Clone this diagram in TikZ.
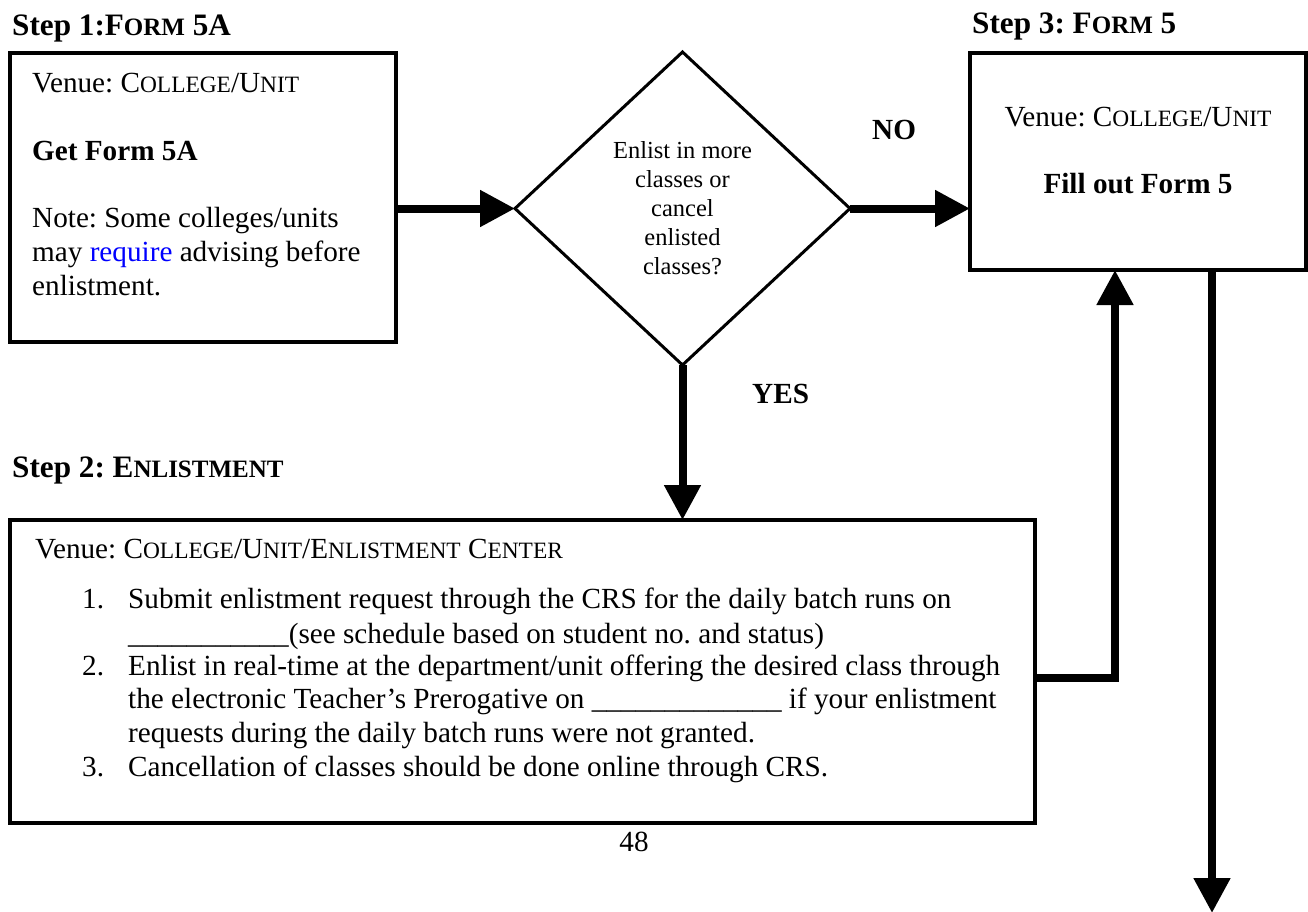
\documentclass[tikz,border=0pt]{standalone}
\usepackage{fontspec}
\setmainfont{Liberation Serif}
\usetikzlibrary{shapes.geometric,arrows.meta,calc}
\frenchspacing
\newcommand\smcp[1]{{\fontsize{23.4}{23.4}\selectfont #1}}
\newcommand\tsmcp[1]{{\fontsize{25}{25}\selectfont #1}}
\newcommand\bodysize{\fontsize{29.2}{33.6}\selectfont}
\newcommand\titlesize{\fontsize{31.2}{35}\selectfont}
\newcommand\dsize{\fontsize{24.5}{29}\selectfont}
\begin{document}
\begin{tikzpicture}[x=1pt,y=-1pt,
  box/.style={draw, line width=3.5pt, inner sep=0pt, outer sep=0pt, anchor=north west},
  txt/.style={inner sep=0pt, anchor=base west, font=\bodysize},
  ctxt/.style={inner sep=0pt, anchor=base, font=\bodysize},
  title/.style={txt, font=\titlesize\bfseries},
  lbl/.style={txt, font=\bodysize\bfseries},
  flow/.style={line width=8pt, -{Triangle[length=35pt,width=35pt]}},
]
\useasboundingbox (0,0) rectangle (1308,911);

% titles
\node[title] (t1) at (12,35) {Step 1:F\tsmcp{ORM} 5A};
\node[title] (t3) at (972,33) {Step 3: F\tsmcp{ORM} 5};
\node[title] (t2) at (12,477) {Step 2: E\tsmcp{NLISTMENT}};

% boxes
\node[box, minimum width=386pt, minimum height=289pt] (b1) at (10,53) {};
\node[box, minimum width=336pt, minimum height=217pt] (b3) at (970,53) {};
\node[box, minimum width=1025pt, minimum height=303pt] (b2) at (10,520) {};

% decision
\node[draw, diamond, line width=3pt, minimum width=335pt, minimum height=313pt,
      inner sep=0pt, outer sep=0pt, align=center, font=\dsize] (d) at (682.5,208.5)
      {Enlist in more\\classes or\\cancel\\enlisted\\classes?};

% box 1 text
\node[txt] (v1) at (32,92) {Venue: C\smcp{OLLEGE}/U\smcp{NIT}};
\node[txt, font=\bodysize\bfseries] (g1) at (32,160) {Get Form 5A};
\node[txt] (n1) at (32,227) {Note: Some colleges/units};
\node[txt] (n2) at (32,261) {may {\color{blue}require} advising before};
\node[txt] (n3) at (32,295) {enlistment.};

% box 3 text
\node[ctxt] (v3) at (1138,126) {Venue: C\smcp{OLLEGE}/U\smcp{NIT}};
\node[ctxt, font=\bodysize\bfseries] (f3) at (1138,193) {Fill out Form 5};

% box 2 text
\node[txt] (v2) at (35,558) {Venue: C\smcp{OLLEGE}/U\smcp{NIT}/E\smcp{NLISTMENT} C\smcp{ENTER}};
\node[txt] (k1) at (82,608) {1.};
\node[txt] (k2) at (82,675) {2.};
\node[txt] (k3) at (82,776) {3.};
\node[txt] (l1) at (128,608) {Submit enlistment request through the CRS for the daily batch runs on};
\node[txt] (l2) at (128,643) {\_\_\_\_\_\_\_\_\_\_\_(see schedule based on student no. and status)};
\node[txt] (l3) at (128,675) {Enlist in real-time at the department/unit offering the desired class through};
\node[txt] (l4) at (128,708) {the electronic Teacher’s Prerogative on \_\_\_\_\_\_\_\_\_\_\_\_\_ if your enlistment};
\node[txt] (l5) at (128,742) {requests during the daily batch runs were not granted.};
\node[txt] (l6) at (128,776) {Cancellation of classes should be done online through CRS.};

% labels
\node[lbl] (no) at (872,139) {NO};
\node[lbl] (yes) at (752,403) {YES};
\node[ctxt] (pg) at (634,851) {48};

% connectors
\coordinate (j) at (1115,678);
\coordinate (e) at (1212,913);
\draw[flow] (b1.east |- d.west) -- (d.west);
\draw[flow] (d.east) -- (d.east -| b3.west);
\draw[flow] (d.south) -- (d.south |- b2.north);
\draw[flow] (b2.east |- j) -- (j) -- (j |- b3.south);
\draw[flow] (e |- b3.south) -- (e);
\end{tikzpicture}
\end{document}
